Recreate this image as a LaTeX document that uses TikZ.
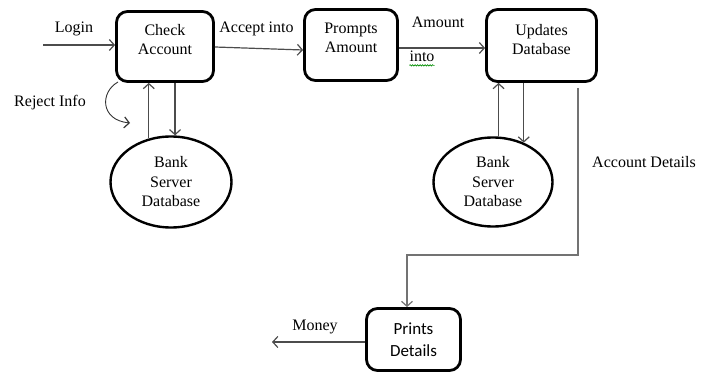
\documentclass[tikz,border=0pt]{standalone}
\usepackage{fontspec}
\setmainfont{Liberation Serif}
\newfontfamily\boxsans{Carlito}
\usetikzlibrary{arrows.meta,shapes.geometric,decorations.pathmorphing}

\begin{document}
\begin{tikzpicture}[x=1pt,y=-1pt,
  proc/.style={draw=black, line width=2.8pt, rounded corners=11pt, inner sep=0pt},
  store/.style={ellipse, draw=black, line width=2.4pt, inner sep=0pt,
    minimum width=121pt, minimum height=91pt, align=center,
    font=\fontsize{16}{19.5}\selectfont},
  ttl/.style={align=center, font=\fontsize{16}{19}\selectfont, inner sep=0pt},
  lbl/.style={font=\fontsize{16}{19}\selectfont, inner sep=0pt, anchor=base},
  flow/.style={draw=black!70, line width=1.2pt,
    -{Straight Barb[length=5pt,width=11pt,line width=1.2pt]}},
  ]
\useasboundingbox (0,0) rectangle (712,374);

% processes
\node[proc, minimum width=97pt, minimum height=70pt] (chk) at (165,46.5) {};
\node[ttl] (chk-t) at ([yshift=7pt]chk.center) {Check\\Account};
\node[proc, minimum width=93pt, minimum height=71pt] (prm) at (351,45) {};
\node[ttl] (prm-t) at ([yshift=7.5pt]prm.center) {Prompts\\Amount};
\node[proc, minimum width=110pt, minimum height=72pt] (upd) at (541.5,45.5) {};
\node[ttl] (upd-t) at ([yshift=6pt]upd.center) {Updates\\Database};
\node[proc, minimum width=94pt, minimum height=62pt, align=center,
  font=\boxsans\fontsize{17}{22}\selectfont] (prn) at (413.5,339.5) {Prints\\Details};

% data stores
\node[store] (db1) at (171,182) {Bank\\Server\\Database};
\node[store, minimum width=119pt, minimum height=89pt] (db2) at (493,182) {Bank\\Server\\Database};

% free ends
\coordinate (login-in) at (43,45);
\coordinate (ad-top) at (578,88);
\coordinate (ad-bend) at (407,255);
\coordinate (money-out) at (272,342);
\coordinate (rj-a) at (118,82);
\coordinate (rj-b) at (130,123);

% flows
\draw[flow] (login-in) -- (login-in -| chk.west);
\draw[flow] ([yshift=-0.5pt]chk.east) -- ([yshift=-5pt]prm.west);
\draw[flow] ([yshift=-3pt]prm.east) -- ([yshift=-2.5pt]upd.west);
\draw[flow] (db1.117) -- (db1.117 |- chk.south);
\draw[flow] (chk.south -| db1.85) -- (db1.85);
\draw[flow] (db2.83) -- (db2.83 |- upd.south);
\draw[flow] (upd.south -| db2.52) -- (db2.52);
\draw[flow, draw=black!55] (ad-top) |- (ad-bend) -- (ad-bend |- prn.north);
\draw[flow] (prn.west |- money-out) -- (money-out);
\draw[flow, draw=black!80, line width=0.9pt] (rj-a) .. controls (100,92) and (100,120) .. (rj-b);

% labels
\node[lbl] (t-login) at (74,33) {Login};
\node[lbl] (t-accept) at (256.5,33) {Accept into};
\node[lbl] (t-amount) at (438,28) {Amount};
\node[lbl] (t-into) at (422,62) {into};
\node[lbl] (t-reject) at (50,107) {Reject Info};
\node[lbl] (t-acct) at (644,168) {Account Details};
\node[lbl] (t-money) at (315,330) {Money};
\draw[green!55!black, line width=0.6pt, decorate,
  decoration={snake, amplitude=0.7pt, segment length=2.5pt}]
  ([yshift=-3pt]t-into.south west) -- ([yshift=-3pt]t-into.south east);
\end{tikzpicture}
\end{document}
